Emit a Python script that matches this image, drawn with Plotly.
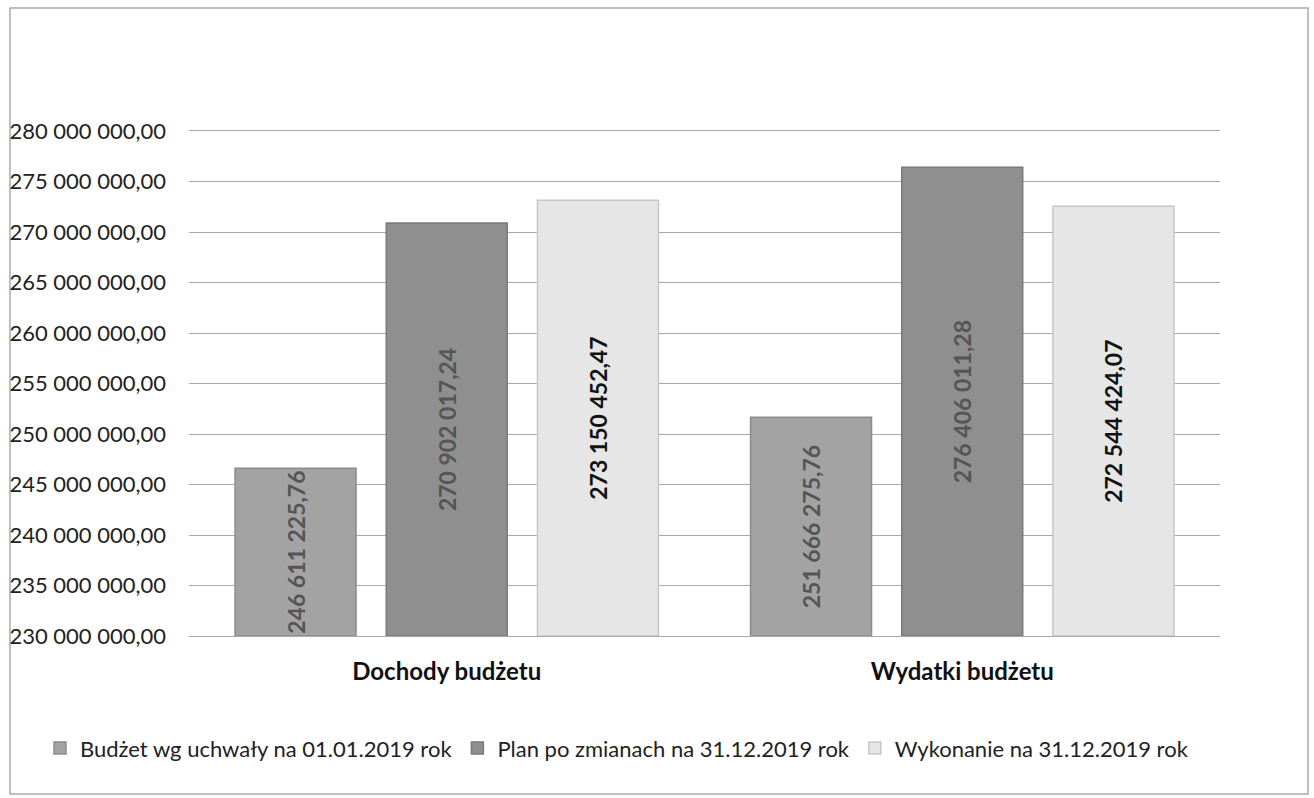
import plotly.graph_objects as go

categories = ["Dochody budżetu", "Wydatki budżetu"]
series_names = [
    "Budżet wg uchwały na 01.01.2019 rok",
    "Plan po zmianach na 31.12.2019 rok",
    "Wykonanie na 31.12.2019 rok",
]
budzet_uchwala = [246611225.76, 251666275.76]
plan_po_zmianach = [270902017.24, 276406011.28]
wykonanie = [273150452.47, 272544424.07]

axis_min = 230e6
axis_max = 280e6
tick_values = [230e6, 235e6, 240e6, 245e6, 250e6, 255e6, 260e6, 265e6, 270e6, 275e6, 280e6]
tick_labels = [
    "230 000 000,00", "235 000 000,00", "240 000 000,00", "245 000 000,00",
    "250 000 000,00", "255 000 000,00", "260 000 000,00", "265 000 000,00",
    "270 000 000,00", "275 000 000,00", "280 000 000,00",
]

colors = ["#a3a3a3", "#8f8f8f", "#e6e6e6"]
line_colors = ["#8c8c8c", "#7a7a7a", "#c6c6c6"]
label_colors = ["#555555", "#555555", "#111111"]


def fmt(v):
    s = f"{v:,.2f}"
    return s.replace(",", " ").replace(".", ",")


FONT = "Lato, 'Open Sans', sans-serif"

fig = go.Figure()
for name, vals, c, lc, tc in zip(series_names, [budzet_uchwala, plan_po_zmianach, wykonanie],
                                  colors, line_colors, label_colors):
    fig.add_trace(go.Bar(
        x=categories,
        y=[v - axis_min for v in vals],
        base=[axis_min] * len(vals),
        name=name,
        marker=dict(color=c, line=dict(color=lc, width=1.5)),
        text=[fmt(v) for v in vals],
        textposition="inside", insidetextanchor="middle", textangle=-90,
        textfont=dict(family=FONT, size=23, color=tc, weight="bold"),
        constraintext="none",
    ))

fig.update_layout(
    width=1314, height=798,
    paper_bgcolor="white", plot_bgcolor="white",
    margin=dict(l=189, r=94, t=131, b=162, autoexpand=False),
    barmode="group", bargap=0.12, bargroupgap=0.2,
    font=dict(family=FONT, size=22, color="#222222"),
    showlegend=True,
    legend=dict(orientation="h", xref="paper", x=(40 - 189) / 1031, xanchor="left",
                yref="paper", y=-0.222, yanchor="middle",
                font=dict(family=FONT, size=22, color="#222222"), traceorder="normal",
                itemwidth=30, tracegroupgap=0),
    xaxis=dict(showgrid=False, showline=True, mirror=True, linecolor="#a8a8a8", linewidth=1,
               ticks="", automargin=False,
               tickfont=dict(family=FONT, size=24, color="#111111", weight="bold"),
               ticklabelstandoff=14),
    yaxis=dict(range=[axis_min, axis_max], tickvals=tick_values, ticktext=tick_labels,
               showgrid=True, gridcolor="#a8a8a8", gridwidth=1, zeroline=False,
               showline=False, ticks="", ticklabelstandoff=22, automargin=False,
               tickfont=dict(family=FONT, size=22, color="#222222")),
    shapes=[dict(type="rect", xref="paper", yref="paper",
                 x0=(10 - 189) / 1031, x1=(1308 - 189) / 1031,
                 y0=(636 - 794) / 505, y1=(636 - 8) / 505,
                 line=dict(color="#aaaaaa", width=1.5), layer="below")],
)

fig.write_html("out.html", config={"displayModeBar": False},
               post_script="document.body.style.margin='0px';")
